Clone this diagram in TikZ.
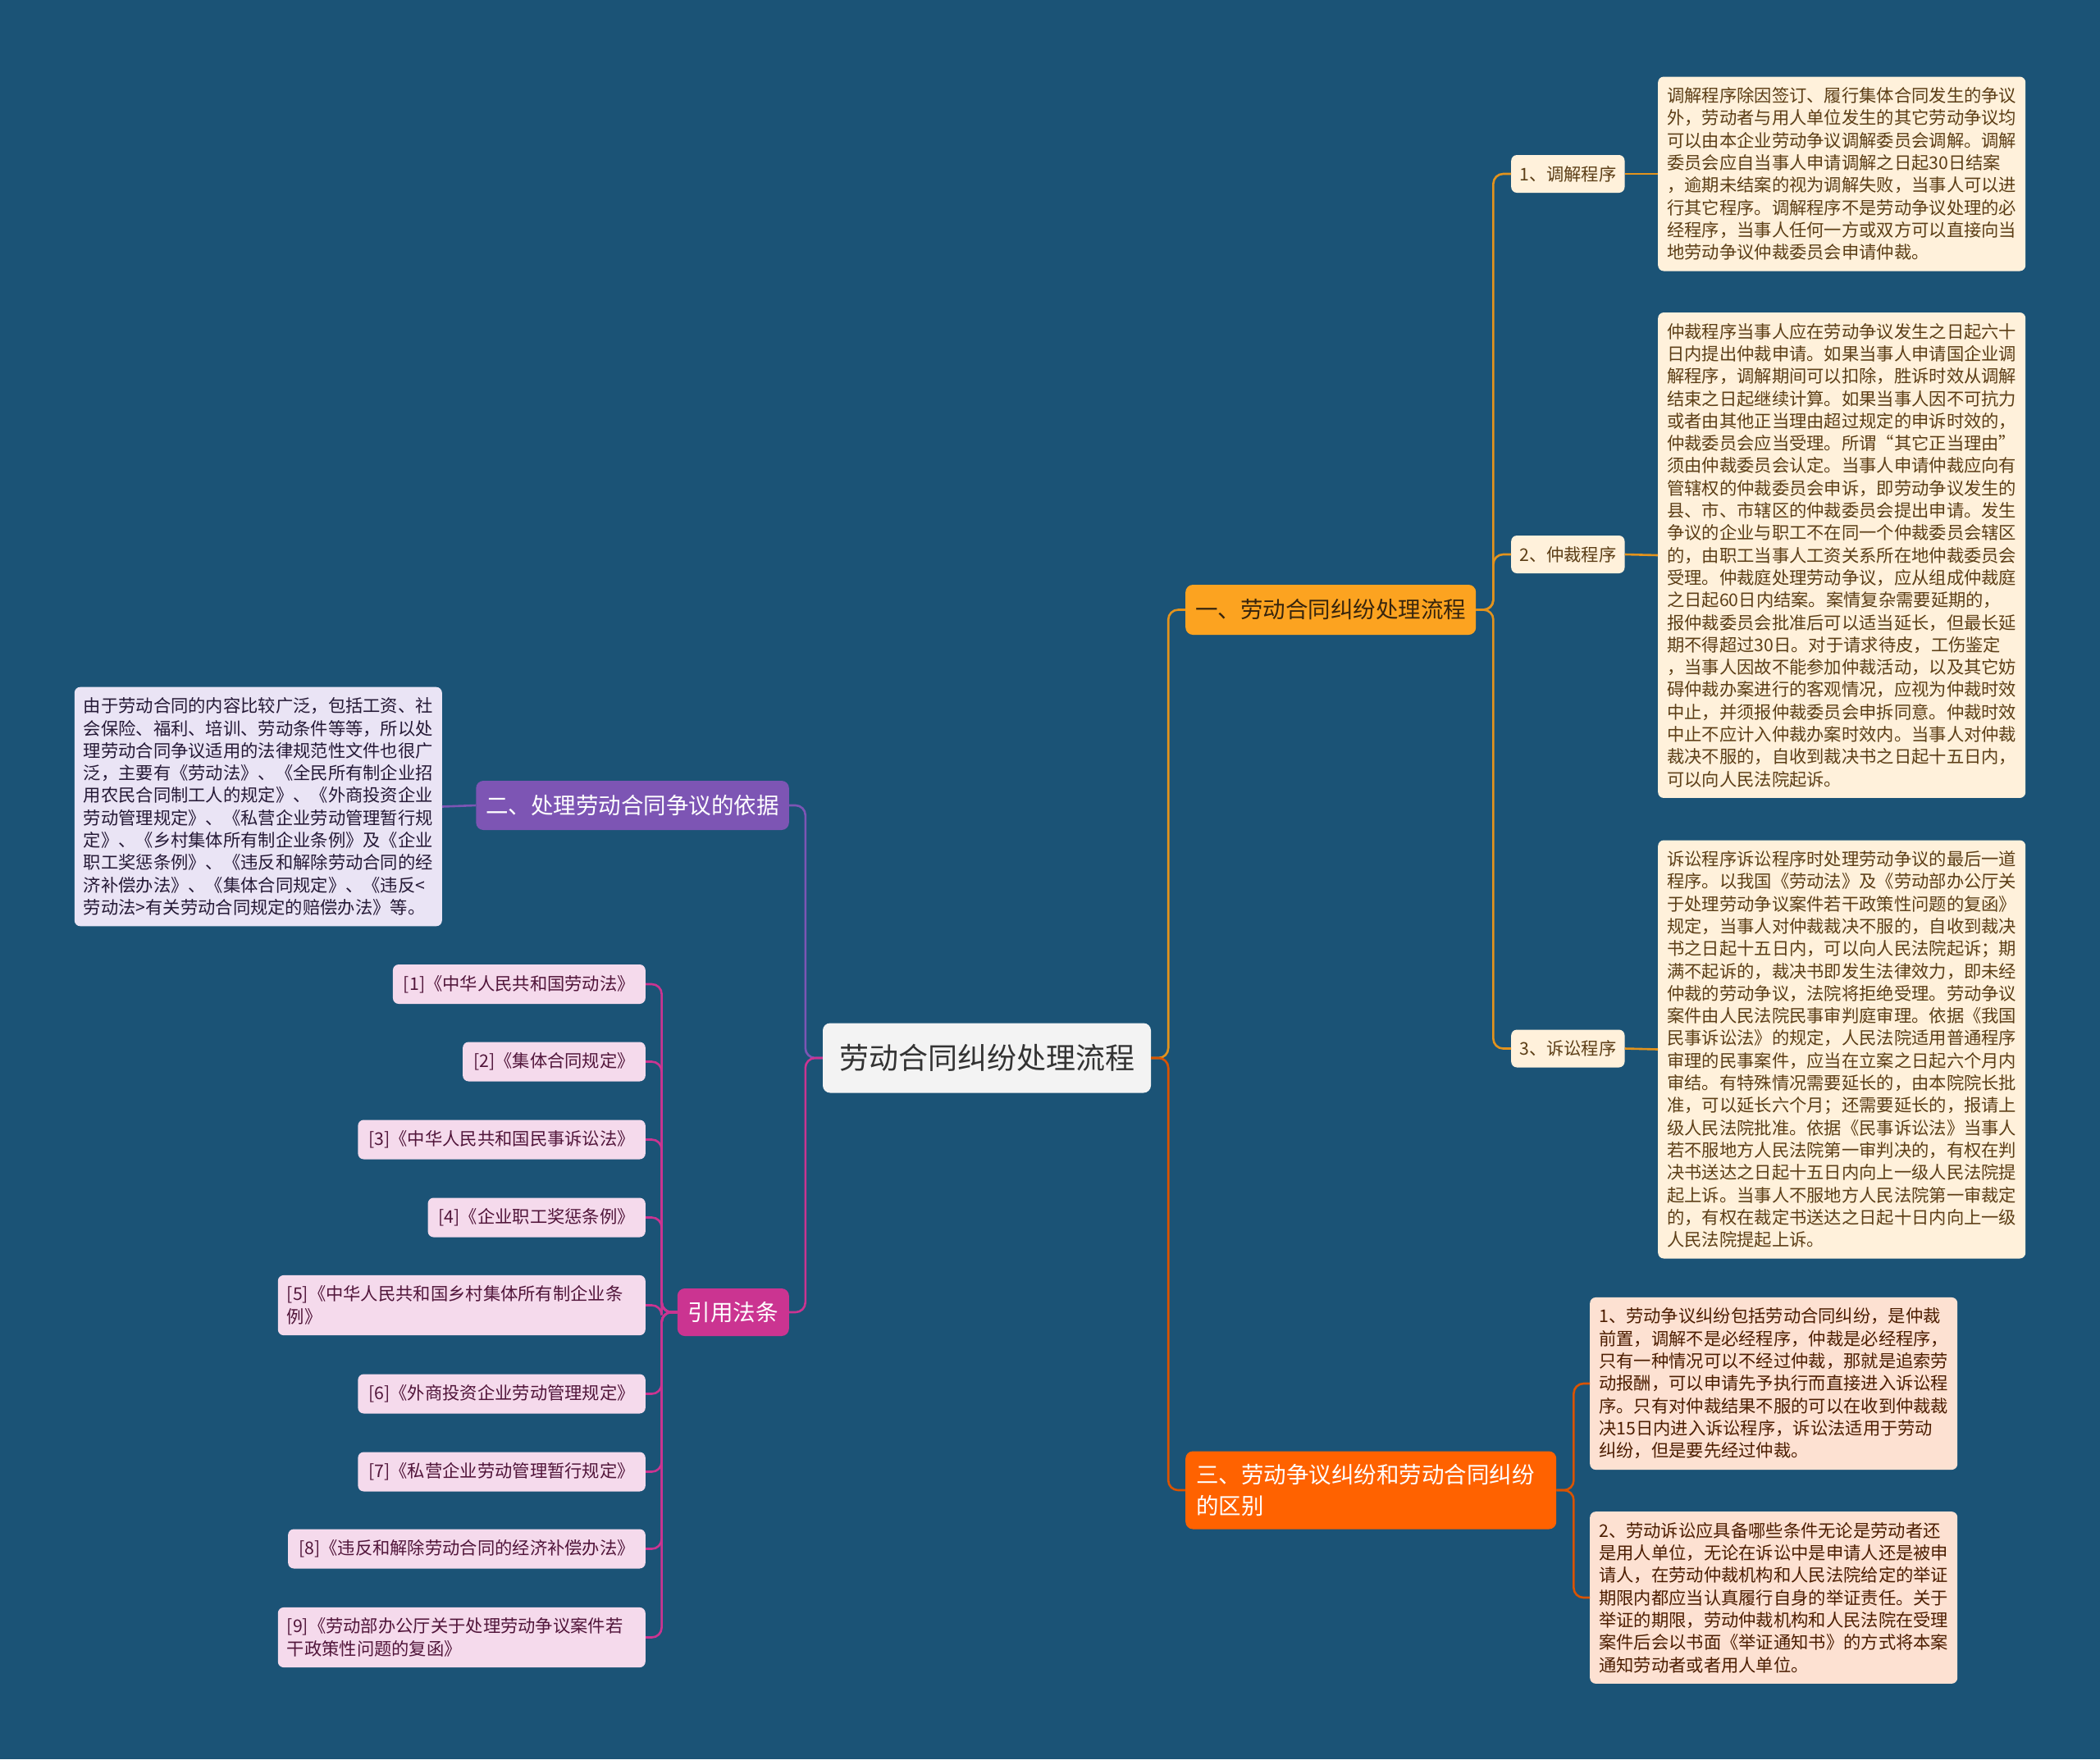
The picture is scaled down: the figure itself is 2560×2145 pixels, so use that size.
\documentclass[tikz,border=0pt]{standalone}
\usepackage{fontspec}
\setmainfont{Noto Sans CJK SC}
\usetikzlibrary{positioning}
\definecolor{bgcolor}{RGB}{27,83,118}
\definecolor{rootfill}{RGB}{243,243,243}
\definecolor{onecolor}{RGB}{252,163,32}
\definecolor{onelight}{RGB}{255,241,219}
\definecolor{onetext}{RGB}{92,62,22}
\definecolor{twocolor}{RGB}{125,85,180}
\definecolor{twolight}{RGB}{234,228,245}
\definecolor{threecolor}{RGB}{203,52,145}
\definecolor{threelight}{RGB}{245,218,236}
\definecolor{fourcolor}{RGB}{255,98,0}
\definecolor{fourlight}{RGB}{253,225,210}

\begin{document}
\begin{tikzpicture}[x=1pt, y=-1pt,
          small/.style={font=\fontsize{21.3}{27.3}\selectfont},
          root/.style={rounded corners=9pt, fill=rootfill, text=black!80, inner xsep=20pt,
            minimum height=85pt, font=\fontsize{36}{44}\selectfont},
          branch/.style={rounded corners=9pt, inner xsep=12pt, text=white,
            font=\fontsize{27.5}{37.5}\selectfont},
          sub/.style={small, rounded corners=7pt, fill=onelight, text=onetext,
            inner xsep=10pt, minimum height=46pt, anchor=west},
          note/.style={small, rounded corners=7pt, inner xsep=11pt, inner ysep=13pt,
            text width=426pt, align=left},
          law/.style={small, rounded corners=7pt, fill=threelight, text=threecolor!40!black,
            inner xsep=13pt, minimum height=48pt, anchor=east},
          longlaw/.style={law, text width=426pt, align=left, inner xsep=11pt, inner ysep=13pt},
          link/.style={line width=2.6pt, rounded corners=12pt}]

          \fill[bgcolor] (0,0) rectangle (2560,2145);
          \useasboundingbox (0,0) rectangle (2560,2145);

          % Root and main branches
          \node[root] (root) at (1203,1290) {劳动合同纠纷处理流程};
          \node[branch, fill=onecolor, text=onetext!60!black, minimum height=61pt, anchor=west] (b1) at (1445,743.5) {一、劳动合同纠纷处理流程};
          \node[branch, fill=twocolor, minimum height=60pt, anchor=east] (b2) at (962,982) {二、处理劳动合同争议的依据};
          \node[branch, fill=threecolor, minimum height=58pt, inner xsep=13pt, anchor=east] (b3) at (962,1600) {引用法条};
          \node[branch, fill=fourcolor, inner xsep=13pt, inner ysep=16pt, text width=426pt, align=left, anchor=west] (b4) at (1445,1817) {三、劳动争议纠纷和劳动合同纠纷\\的区别};

          % Branch one: steps and their notes
          \node[sub] (s1) at (1842,212) {1、调解程序};
          \node[sub] (s2) at (1842,676) {2、仲裁程序};
          \node[sub] (s3) at (1842,1278.5) {3、诉讼程序};

          \node[note, fill=onelight, text=onetext, anchor=west] (t1) at (2021,212) {调解程序除因签订、履行集体合同发生的争议\\外，劳动者与用人单位发生的其它劳动争议均\\可以由本企业劳动争议调解委员会调解。调解\\委员会应自当事人申请调解之日起30日结案\\，逾期未结案的视为调解失败，当事人可以进\\行其它程序。调解程序不是劳动争议处理的必\\经程序，当事人任何一方或双方可以直接向当\\地劳动争议仲裁委员会申请仲裁。};
          \node[note, fill=onelight, text=onetext, anchor=west] (t2) at (2021,677) {仲裁程序当事人应在劳动争议发生之日起六十\\日内提出仲裁申请。如果当事人申请国企业调\\解程序，调解期间可以扣除，胜诉时效从调解\\结束之日起继续计算。如果当事人因不可抗力\\或者由其他正当理由超过规定的申诉时效的，\\仲裁委员会应当受理。所谓“其它正当理由”\\须由仲裁委员会认定。当事人申请仲裁应向有\\管辖权的仲裁委员会申诉，即劳动争议发生的\\县、市、市辖区的仲裁委员会提出申请。发生\\争议的企业与职工不在同一个仲裁委员会辖区\\的，由职工当事人工资关系所在地仲裁委员会\\受理。仲裁庭处理劳动争议，应从组成仲裁庭\\之日起60日内结案。案情复杂需要延期的，\\报仲裁委员会批准后可以适当延长，但最长延\\期不得超过30日。对于请求待皮，工伤鉴定\\，当事人因故不能参加仲裁活动，以及其它妨\\碍仲裁办案进行的客观情况，应视为仲裁时效\\中止，并须报仲裁委员会申拆同意。仲裁时效\\中止不应计入仲裁办案时效内。当事人对仲裁\\裁决不服的，自收到裁决书之日起十五日内，\\可以向人民法院起诉。};
          \node[note, fill=onelight, text=onetext, anchor=west] (t3) at (2021,1279.5) {诉讼程序诉讼程序时处理劳动争议的最后一道\\程序。以我国《劳动法》及《劳动部办公厅关\\于处理劳动争议案件若干政策性问题的复函》\\规定，当事人对仲裁裁决不服的，自收到裁决\\书之日起十五日内，可以向人民法院起诉；期\\满不起诉的，裁决书即发生法律效力，即未经\\仲裁的劳动争议，法院将拒绝受理。劳动争议\\案件由人民法院民事审判庭审理。依据《我国\\民事诉讼法》的规定，人民法院适用普通程序\\审理的民事案件，应当在立案之日起六个月内\\审结。有特殊情况需要延长的，由本院院长批\\准，可以延长六个月；还需要延长的，报请上\\级人民法院批准。依据《民事诉讼法》当事人\\若不服地方人民法院第一审判决的，有权在判\\决书送达之日起十五日内向上一级人民法院提\\起上诉。当事人不服地方人民法院第一审裁定\\的，有权在裁定书送达之日起十日内向上一级\\人民法院提起上诉。};

          % Branch three (right): differences
          \node[note, fill=fourlight, text=fourcolor!30!black, anchor=west] (d1) at (1938,1687) {1、劳动争议纠纷包括劳动合同纠纷，是仲裁\\前置，调解不是必经程序，仲裁是必经程序，\\只有一种情况可以不经过仲裁，那就是追索劳\\动报酬，可以申请先予执行而直接进入诉讼程\\序。只有对仲裁结果不服的可以在收到仲裁裁\\决15日内进入诉讼程序，诉讼法适用于劳动\\纠纷，但是要先经过仲裁。};
          \node[note, fill=fourlight, text=fourcolor!30!black, anchor=west] (d2) at (1938,1948) {2、劳动诉讼应具备哪些条件无论是劳动者还\\是用人单位，无论在诉讼中是申请人还是被申\\请人，在劳动仲裁机构和人民法院给定的举证\\期限内都应当认真履行自身的举证责任。关于\\举证的期限，劳动仲裁机构和人民法院在受理\\案件后会以书面《举证通知书》的方式将本案\\通知劳动者或者用人单位。};

          % Branch two: basis
          \node[note, fill=twolight, text=twocolor!30!black, anchor=east] (basis) at (539,983.5) {由于劳动合同的内容比较广泛，包括工资、社\\会保险、福利、培训、劳动条件等等，所以处\\理劳动合同争议适用的法律规范性文件也很广\\泛，主要有《劳动法》、《全民所有制企业招\\用农民合同制工人的规定》、《外商投资企业\\劳动管理规定》、《私营企业劳动管理暂行规\\定》、《乡村集体所有制企业条例》及《企业\\职工奖惩条例》、《违反和解除劳动合同的经\\济补偿办法》、《集体合同规定》、《违反<\\劳动法>有关劳动合同规定的赔偿办法》等。};

          % Cited laws
          \node[law] (r1) at (787,1200) {[1]《中华人民共和国劳动法》};
          \node[law] (r2) at (787,1294.5) {[2]《集体合同规定》};
          \node[law] (r3) at (787,1389.5) {[3]《中华人民共和国民事诉讼法》};
          \node[law] (r4) at (787,1484.5) {[4]《企业职工奖惩条例》};
          \node[longlaw] (r5) at (787,1591.5) {[5]《中华人民共和国乡村集体所有制企业条\\例》};
          \node[law] (r6) at (787,1699.5) {[6]《外商投资企业劳动管理规定》};
          \node[law] (r7) at (787,1794.5) {[7]《私营企业劳动管理暂行规定》};
          \node[law] (r8) at (787,1888.5) {[8]《违反和解除劳动合同的经济补偿办法》};
          \node[longlaw] (r9) at (787,1996.5) {[9]《劳动部办公厅关于处理劳动争议案件若\\干政策性问题的复函》};

          % Connectors
          \draw[link, onecolor!90!black] (root.east) -- ++(21,0) |- (b1.west);
          \draw[link, fourcolor!85!black] (root.east) -- ++(21,0) |- (b4.west);
          \draw[link, twocolor] (root.west) -- ++(-21,0) |- (b2.east);
          \draw[link, threecolor] (root.west) -- ++(-21,0) |- (b3.east);
          \foreach \i in {1,2,3} {
            \draw[link, onecolor!90!black] (b1.east) -- ++(21,0) |- (s\i.west);
            \draw[link, onecolor!90!black] (s\i.east) -- (t\i.west);
          }
          \foreach \i in {1,2}
            \draw[link, fourcolor!85!black] (b4.east) -- ++(21,0) |- (d\i.west);
          \draw[link, twocolor] (b2.west) -- (basis.east);
          \foreach \i in {1,...,9}
            \draw[link, threecolor] (b3.west) -- ++(-19,0) |- (r\i.east);
        \end{tikzpicture}
\end{document}
